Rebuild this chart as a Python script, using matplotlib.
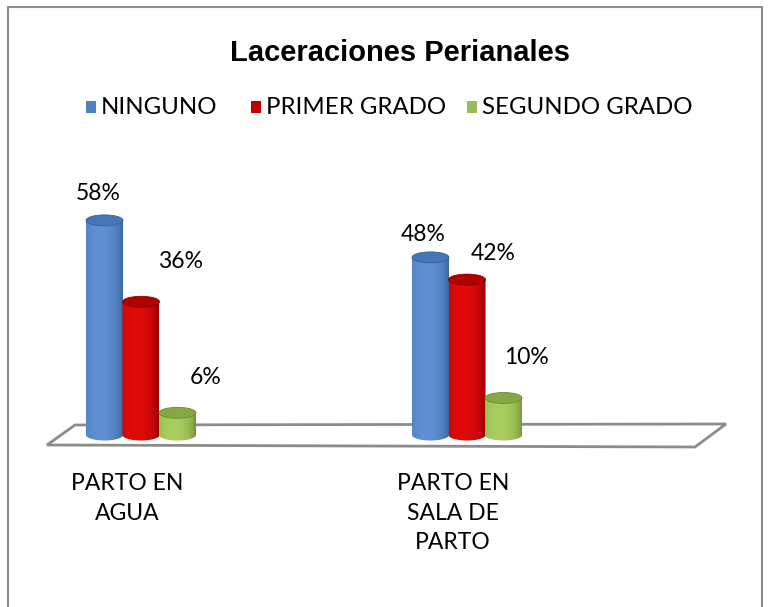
import numpy as np
import matplotlib
matplotlib.use("Agg")
import matplotlib.pyplot as plt
import matplotlib.colors as mcolors
from matplotlib.patches import Ellipse, Rectangle, Polygon, PathPatch
from matplotlib.path import Path

categories = ["PARTO EN\nAGUA", "PARTO EN\nSALA DE\nPARTO"]
series = ["NINGUNO", "PRIMER GRADO", "SEGUNDO GRADO"]
ninguno = [58, 48]
primer_grado = [36, 42]
segundo_grado = [6, 10]
values = [ninguno, primer_grado, segundo_grado]

# cylinder colours: (edge shade, highlight, top)
shades = [("#35619a", "#5e90d2", "#4676b6"),
          ("#8e0000", "#e00a0a", "#b00000"),
          ("#6c8a30", "#aacf60", "#86a844")]
legend_colors = ["#4f81bd", "#c00000", "#9bbb59"]

# pixel scale of the plot area
PX_X = 326.0   # px per category
PX_Y = 3.7     # px per percent
W, H = 768, 607
X0, Y0 = 141, 435  # pixel of first category centre at 0 %

fig = plt.figure(figsize=(W / 100, H / 100), dpi=100)
ax = fig.add_axes([0, 0, 1, 1])
ax.axis("off")

bar_w = 37 / PX_X
step = 36.5 / PX_X
eh = 11 / PX_Y  # ellipse height in data units

# floor
floor = Polygon([(-94 / PX_X, -10 / PX_Y), (554 / PX_X, -12 / PX_Y),
                 (585 / PX_X, 11 / PX_Y), (-66 / PX_X, 10 / PX_Y)],
                closed=True, facecolor="white", edgecolor="#8c8c8c", lw=2, zorder=1)
ax.add_patch(floor)


def cylinder(cx, v, colors, z):
    dark, light, top = colors
    x0, x1 = cx - bar_w / 2, cx + bar_w / 2
    t = np.linspace(0, 1, 80)
    prof = np.clip(1 - ((t - 0.38) / 0.62) ** 2, 0, 1) ** 0.6
    c0 = np.array(mcolors.to_rgb(dark))
    c1 = np.array(mcolors.to_rgb(light))
    img = c0[None, :] + (c1 - c0)[None, :] * prof[:, None]
    img = img[None, :, :]
    th = np.linspace(np.pi, 2 * np.pi, 40)
    arc = np.column_stack([cx + bar_w / 2 * np.cos(th), eh / 2 * np.sin(th)])
    verts = np.vstack([[x0, v], arc, [x1, v], [x0, v]])
    codes = [Path.MOVETO] + [Path.LINETO] * (len(verts) - 2) + [Path.CLOSEPOLY]
    clip = PathPatch(Path(verts, codes), transform=ax.transData,
                     facecolor="none", edgecolor="none")
    ax.add_patch(clip)
    im = ax.imshow(img, extent=(x0, x1, -eh, v), aspect="auto",
                   interpolation="bilinear", zorder=z)
    im.set_clip_path(clip)
    ax.add_patch(Ellipse((cx, v), bar_w, eh, facecolor=top,
                         edgecolor=dark, lw=0.6, zorder=z + 0.1))


# label offsets in px (dx right, dy up) relative to bar top
lab_off = [[(-6, 27), (-7, 23)],
           [(40, 40), (26, 26)],
           [(28, 35), (23, 40)]]

for i, vals in enumerate(values):
    for j, v in enumerate(vals):
        cx = j + (i - 1) * step
        cylinder(cx, v, shades[i], 2 + i)
        dx, dy = lab_off[i][j]
        ax.text(cx + dx / PX_X, v + dy / PX_Y, f"{v}%", ha="center", va="center",
                fontsize=16.5, family="Lato", zorder=10)

for j, cat in enumerate(categories):
    ax.text(j - 14 / PX_X, -38 / PX_Y, cat, ha="center", va="top",
            fontsize=16.5, family="Lato", linespacing=1.5)

ax.set_xlim(-X0 / PX_X, (W - X0) / PX_X)
ax.set_ylim((Y0 - H) / PX_Y, Y0 / PX_Y)

# title and legend
fig.text(400 / W, 1 - 53 / H, "Laceraciones Perianales", ha="center", va="center",
         fontsize=21, weight="bold", family="Liberation Sans")

leg_x = [86, 251, 467]
for i, name in enumerate(series):
    fig.patches.append(Rectangle((leg_x[i] / W, 1 - 113 / H), 10 / W, 12 / H,
                                 transform=fig.transFigure, facecolor=legend_colors[i],
                                 edgecolor="none"))
    fig.text((leg_x[i] + 15) / W, 1 - 107 / H, name, ha="left", va="center",
             fontsize=17.3, family="Lato")

fig.patches.append(Rectangle((8 / W, -0.02), 754 / W, 1.02 - 7 / H,
                             transform=fig.transFigure, fill=False,
                             edgecolor="#8c8c8c", lw=1.5))

fig.savefig("out.png", dpi=100)
